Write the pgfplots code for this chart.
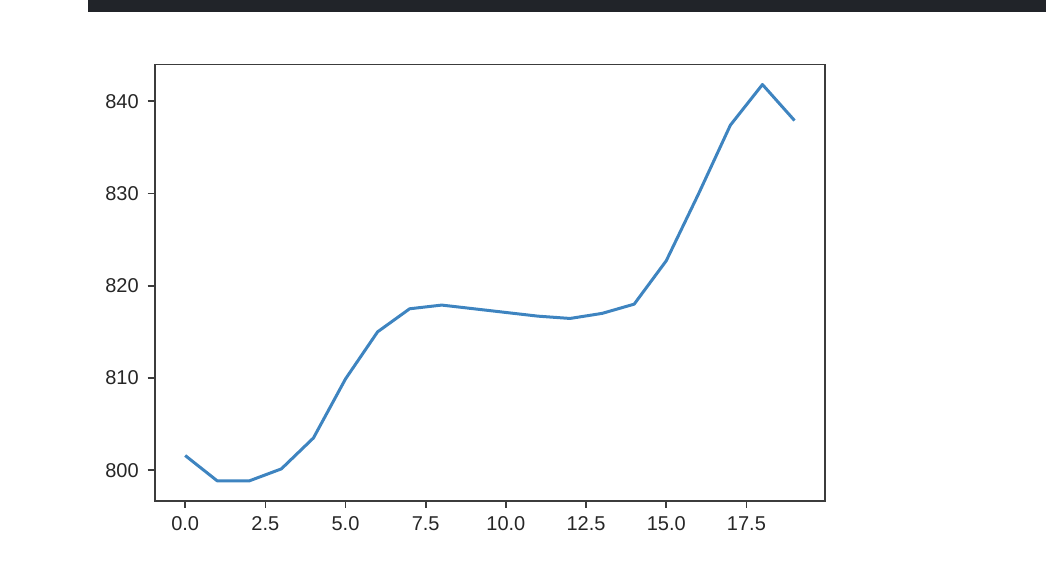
\documentclass[border=0pt]{standalone}
\usepackage{pgfplots}
\pgfplotsset{compat=1.18}
\usepackage{fontspec}
\setmainfont{Liberation Sans}
\definecolor{topbar}{RGB}{33,36,41}
\definecolor{linec}{RGB}{62,132,192}
\definecolor{framec}{RGB}{60,60,60}
\definecolor{textc}{RGB}{38,38,38}
\begin{document}
\begin{tikzpicture}
\useasboundingbox (0,0) rectangle (523pt,293pt);
\fill[topbar] (44pt,287pt) rectangle (523pt,293pt);
\begin{axis}[
  at={(77.35pt,42.65pt)}, anchor=south west,
  scale only axis, width=335.15pt, height=218pt,
  xmin=-0.95, xmax=19.95, ymin=796.7, ymax=843.95,
  xtick={0,2.5,5,7.5,10,12.5,15,17.5},
  xticklabels={0.0,2.5,5.0,7.5,10.0,12.5,15.0,17.5},
  ytick={800,810,820,830,840},
  yticklabels={800,810,820,830,840},
  xtick pos=lower, ytick pos=left,
  tick align=outside, major tick length=3.5pt,
  tick style={framec, line width=0.8pt},
  axis line style={framec, line width=0.8pt},
  ticklabel style={font=\fontsize{10}{12}\selectfont, text=textc},
  xticklabel style={yshift=-1pt},
  yticklabel style={xshift=-1pt},
]
\addplot[linec, line width=1.5pt, line join=round] coordinates {
(0,801.6) (1,798.85) (2,798.85) (3,800.15) (4,803.5) (5,809.9) (6,815.0)
(7,817.5) (8,817.9) (9,817.5) (10,817.1) (11,816.7) (12,816.45) (13,817.0)
(14,818.0) (15,822.7) (16,829.9) (17,837.4) (18,841.8) (19,837.9)
};
\end{axis}
\end{tikzpicture}
\end{document}
